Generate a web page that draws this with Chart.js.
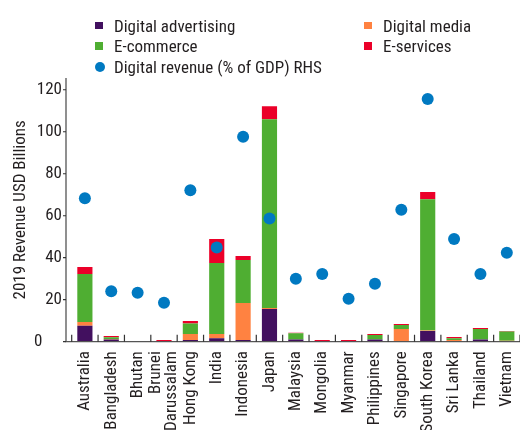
<!DOCTYPE html>
<html><head><meta charset="utf-8">
<script src="https://cdn.jsdelivr.net/npm/chart.js@4"></script>
<style>
html,body{margin:0;padding:0;background:#fff;overflow:hidden;width:520px;height:430px;}
#wrap{position:relative;width:520px;height:430px;overflow:hidden;}
canvas{position:absolute;left:0;top:0;}
#legend{position:absolute;left:0;top:0;width:520px;height:80px;font-family:"Roboto Condensed",Roboto,sans-serif;font-size:17px;color:#231f20;}
.item{position:absolute;white-space:nowrap;line-height:20px;height:20px;}
.sw{position:absolute;}
</style></head>
<body><div id="wrap"><canvas id="c" width="526" height="430"></canvas><div id="legend"></div></div>
<script>
const FONT = '"Roboto Condensed", Roboto, sans-serif';
const FSIZE = 17;
const categories = ['Australia','Bangladesh','Bhutan',['Brunei','Darussalam'],'Hong Kong','India','Indonesia','Japan','Malaysia','Mongolia','Myanmar','Philippines','Singapore','South Korea','Sri Lanka','Thailand','Vietnam'];
const digitalAdvertising = [7.6, 1.0, 0.15, 0.1, 0.8, 1.7, 0.8, 15.6, 1.0, 0.1, 0.3, 1.0, 0.2, 5.1, 0.2, 1.0, 0.3];
const digitalMedia       = [1.8, 0.3, 0,    0,   2.9, 2.0, 17.6, 0.4, 0.1, 0,   0,   0.1, 5.8, 0.2, 0.6, 0.1, 0.1];
const eCommerce          = [22.8, 0.8, 0,   0,   5.0, 33.8, 20.5, 90.0, 2.9, 0,  0,   2.1, 1.9, 62.6, 0.9, 4.9, 4.4];
const eServices          = [3.4, 0.6, 0.2,  0.7, 1.1, 11.4, 1.9, 6.2, 0.3, 0.7, 0.5, 0.5, 0.5, 3.4, 0.5, 0.5, 0.3];
const digitalRevenueGDP  = [68.3, 24.0, 23.3, 18.6, 72.1, 44.9, 97.6, 58.7, 30.0, 32.2, 20.5, 27.6, 62.9, 115.6, 48.9, 32.2, 42.4];
const yTickValues = [0, 20, 40, 60, 80, 100, 120];
const seriesNames = ['Digital advertising','Digital media','E-commerce','E-services','Digital revenue (% of GDP) RHS'];

const COLORS = ['#42105f','#ff8241','#4fae32','#eb0029','#0079c1'];
const TEXT = '#231f20';
const AXIS_GAP = 5.7;
const Y_MAX = 125.6;

const axesPlugin = {
  id: 'customAxes',
  afterDatasetsDraw(chart) {
    const {ctx, chartArea} = chart;
    const x = chart.scales.x, y = chart.scales.y;
    const ax = chartArea.left - AXIS_GAP;
    const by = y.getPixelForValue(0);
    const cw = x.getPixelForValue(1) - x.getPixelForValue(0);
    ctx.save();
    ctx.strokeStyle = '#555';
    ctx.lineWidth = 1.3;
    ctx.beginPath();
    ctx.moveTo(ax, y.getPixelForValue(Y_MAX));
    ctx.lineTo(ax, by);
    ctx.lineTo(chart.width, by);
    ctx.stroke();
    ctx.strokeStyle = '#333';
    ctx.lineWidth = 1.2;
    ctx.beginPath();
    yTickValues.forEach(v => {
      const py = y.getPixelForValue(v);
      ctx.moveTo(ax - 3, py);
      ctx.lineTo(ax, py);
    });
    for (let i = 0; i <= categories.length; i++) {
      const px = x.getPixelForValue(0) - cw / 2 + i * cw;
      ctx.moveTo(px, by);
      ctx.lineTo(px, by - 7);
    }
    ctx.stroke();
    // category labels, rotated, one line per array entry
    ctx.font = FSIZE + 'px ' + FONT;
    ctx.fillStyle = TEXT;
    ctx.textAlign = 'right';
    ctx.textBaseline = 'middle';
    const lh = 16;
    categories.forEach((c, i) => {
      const lines = Array.isArray(c) ? c : [c];
      const cx = x.getPixelForValue(i);
      lines.forEach((ln, j) => {
        const px = cx + (j - (lines.length - 1) / 2) * lh;
        ctx.save();
        ctx.translate(px, by + 9.5);
        ctx.rotate(-Math.PI / 2);
        ctx.fillText(ln, 0, 0);
        ctx.restore();
      });
    });
    ctx.restore();
  }
};

const barCommon = {type: 'bar', stack: 's', yAxisID: 'y', order: 2, borderWidth: 0, categoryPercentage: 0.575, barPercentage: 1};
const data = {
  labels: categories,
  datasets: [
    Object.assign({label: seriesNames[0], data: digitalAdvertising, backgroundColor: COLORS[0]}, barCommon),
    Object.assign({label: seriesNames[1], data: digitalMedia, backgroundColor: COLORS[1]}, barCommon),
    Object.assign({label: seriesNames[2], data: eCommerce, backgroundColor: COLORS[2]}, barCommon),
    Object.assign({label: seriesNames[3], data: eServices, backgroundColor: COLORS[3]}, barCommon),
    {type: 'line', label: seriesNames[4], data: digitalRevenueGDP, yAxisID: 'y1', order: 0, showLine: false,
     pointRadius: 6, pointHoverRadius: 6, pointBackgroundColor: COLORS[4], pointBorderWidth: 0, borderColor: COLORS[4], backgroundColor: COLORS[4]}
  ]
};

const chart = new Chart(document.getElementById('c'), {
  data,
  options: {
    responsive: false,
    animation: false,
    devicePixelRatio: 1,
    layout: {padding: {top: 78, right: 0, left: 0, bottom: 0}},
    plugins: {legend: {display: false}, tooltip: {enabled: false}},
    scales: {
      x: {
        type: 'category', stacked: true, offset: true,
        grid: {display: false, drawTicks: false}, border: {display: false},
        ticks: {display: false, autoSkip: false},
        afterFit(s) { s.height = 430 - 341.7; }
      },
      y: {
        type: 'linear', stacked: true, min: 0, max: Y_MAX,
        grid: {display: false, drawTicks: false}, border: {display: false},
        ticks: {stepSize: 20, padding: 9.7, color: TEXT, font: {family: FONT, size: FSIZE},
                callback: v => v === 0 ? '0     ' : String(v)},
        afterBuildTicks(s) { s.ticks = yTickValues.map(v => ({value: v})); },
        title: {display: true, text: '2019 Revenue USD Billions', color: TEXT, font: {family: FONT, size: FSIZE}, padding: {top: 11, bottom: 0}},
        afterFit(s) { s.width = 71.7; }
      },
      y1: {type: 'linear', display: false, min: 0, max: Y_MAX}
    }
  },
  plugins: [axesPlugin]
});

// HTML legend built from the chart's datasets
const legend = document.getElementById('legend');
const pos = [[95, 25.5], [364, 25.5], [95, 46], [364, 46], [95, 66.7]];
chart.data.datasets.forEach((ds, i) => {
  const [lx, cy] = pos[i];
  const sw = document.createElement('div');
  sw.className = 'sw';
  const isPoint = ds.type === 'line';
  const size = isPoint ? 10 : 7.5;
  sw.style.left = lx + 'px';
  sw.style.top = (cy - size / 2) + 'px';
  sw.style.width = size + 'px';
  sw.style.height = size + 'px';
  sw.style.background = ds.backgroundColor;
  if (isPoint) sw.style.borderRadius = '50%';
  legend.appendChild(sw);
  const t = document.createElement('div');
  t.className = 'item';
  t.textContent = ds.label;
  t.style.left = (lx + 19) + 'px';
  t.style.top = (cy - 10) + 'px';
  legend.appendChild(t);
});
</script>
</body></html>
